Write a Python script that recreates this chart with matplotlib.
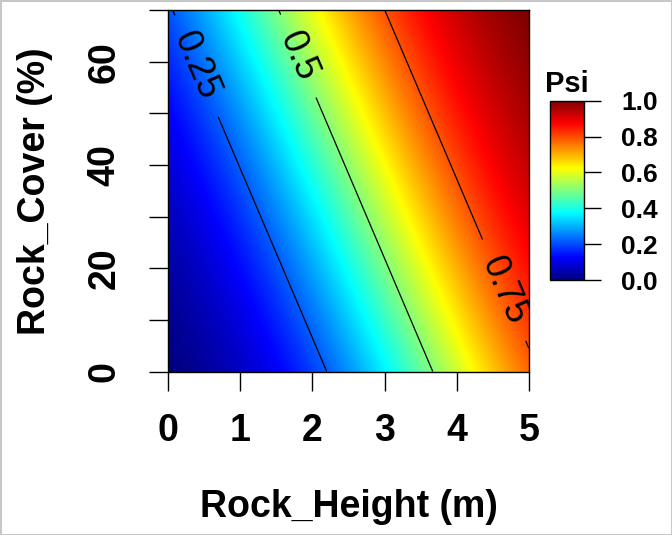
import numpy as np
import matplotlib
matplotlib.use("Agg")
import matplotlib.pyplot as plt
from matplotlib.colors import LinearSegmentedColormap

# occupancy model (logit scale)
b0 = -2.74       # intercept
b_height = 0.747  # per m of rock height
b_cover = 0.0228  # per % of rock cover

height_range = [0, 5]
cover_range = [0, 70]
contour_levels = [0.25, 0.5, 0.75]
label_spots = [(0.37, 59), (1.79, 61), (4.65, 15.7)]
x_ticks = [0, 1, 2, 3, 4, 5]
y_ticks = [0, 10, 20, 30, 40, 50, 60, 70]
y_labels = ["0", "", "20", "", "40", "", "60", ""]
cb_ticks = [0.0, 0.2, 0.4, 0.6, 0.8, 1.0]

h = np.linspace(height_range[0], height_range[1], 400)
c = np.linspace(cover_range[0], cover_range[1], 400)
H, C = np.meshgrid(h, c)
psi = 1 / (1 + np.exp(-(b0 + b_height * H + b_cover * C)))

# R's matlab.like palette
jet = LinearSegmentedColormap.from_list(
    "matlab_like",
    ["#00007F", "blue", "#007FFF", "cyan", "#7FFF7F", "yellow", "#FF7F00", "red", "#7F0000"])

plt.rcParams["font.family"] = ["Liberation Sans", "DejaVu Sans"]

fig = plt.figure(figsize=(6.72, 5.35), dpi=100)
fig.patch.set_edgecolor("#c8c8c8")
fig.patch.set_linewidth(2)

ax = fig.add_axes([0.2504, 0.3056, 0.5365, 0.6757])
# image() in R stretches the palette over range(z), the key shows 0-1
ax.imshow(psi, origin="lower", cmap=jet, vmin=psi.min(), vmax=psi.max(), aspect="auto",
          extent=[height_range[0], height_range[1], cover_range[0], cover_range[1]],
          interpolation="bilinear")
cs = ax.contour(H, C, psi, levels=contour_levels, colors="black", linewidths=0.9)
ax.clabel(cs, fmt={0.25: "0.25", 0.5: "0.5", 0.75: "0.75"}, fontsize=26,
          inline=True, inline_spacing=20, manual=label_spots)
ax.set_xlim(height_range)
ax.set_ylim(cover_range)

for s in ax.spines.values():
    s.set_linewidth(1.0)

ax.set_xticks(x_ticks)
ax.set_yticks(y_ticks)
ax.set_yticklabels(y_labels)
ax.tick_params(axis="both", length=14, width=1.0, labelsize=27)
ax.tick_params(axis="x", pad=16)
ax.tick_params(axis="y", pad=19, labelrotation=90)
for t in ax.get_xticklabels() + ax.get_yticklabels():
    t.set_fontweight("bold")
for t in ax.get_yticklabels():
    t.set_verticalalignment("center")

ax.set_xlabel("Rock_Height (m)", fontsize=27, fontweight="bold", labelpad=29)
ax.set_ylabel("Rock_Cover (%)", fontsize=27, fontweight="bold", labelpad=24)

# colour key
cax = fig.add_axes([0.8185, 0.4766, 0.0505, 0.3352])
sm = plt.cm.ScalarMappable(cmap=jet, norm=plt.Normalize(0, 1))
cb = fig.colorbar(sm, cax=cax, ticks=cb_ticks)
cb.outline.set_linewidth(1.0)
cb.ax.tick_params(length=12, width=1.0, labelsize=19, pad=15)
cb.ax.set_yticklabels(["%.1f" % v for v in cb_ticks])
for t in cb.ax.get_yticklabels():
    t.set_fontweight("bold")
cb.ax.set_title("Psi", fontsize=21, fontweight="bold", pad=6)

fig.savefig("out.png", dpi=100)
